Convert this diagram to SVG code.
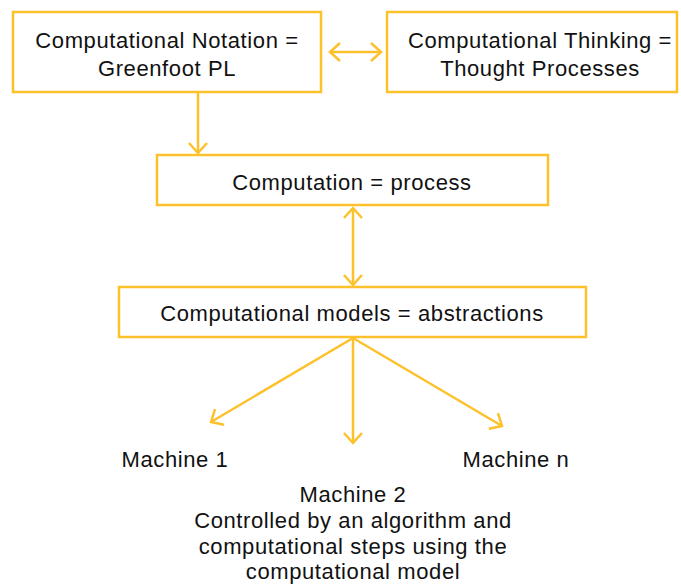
<svg xmlns="http://www.w3.org/2000/svg" width="681" height="587" viewBox="0 0 681 587">
<defs>
<style>
.box{fill:#fff;stroke:#FDC12B;stroke-width:2.5}
.ln{fill:none;stroke:#FDC12B;stroke-width:2.5}
text{font-family:"Liberation Sans",Arial,sans-serif;font-size:22px;letter-spacing:0.6px;fill:#111;text-anchor:middle}
</style>
<marker id="ah" viewBox="0 0 20 20" refX="16" refY="10" markerWidth="20" markerHeight="20" markerUnits="userSpaceOnUse" orient="auto-start-reverse">
<path d="M6,1 L16,10 L6,19" fill="none" stroke="#FDC12B" stroke-width="2.5"/>
</marker>
</defs>
<rect width="681" height="587" fill="#fff"/>
<g id="n1"><rect class="box" x="13" y="12" width="308" height="80"/>
<text x="167" y="48">Computational Notation =</text><text x="167" y="76">Greenfoot PL</text></g>
<g id="n2"><rect class="box" x="387" y="12" width="290" height="80"/>
<text x="540" y="48">Computational Thinking =</text><text x="540" y="76">Thought Processes</text></g>
<g id="n3"><rect class="box" x="157" y="155" width="391" height="50"/>
<text x="352" y="190">Computation = process</text></g>
<g id="n4"><rect class="box" x="119" y="287" width="467" height="50"/>
<text x="352" y="321">Computational models = abstractions</text></g>
<g id="m1"><text x="175" y="467">Machine 1</text></g>
<g id="mn"><text x="516" y="467">Machine n</text></g>
<g id="m2"><text x="353" y="502">Machine 2</text>
<text x="353" y="528">Controlled by an algorithm and</text>
<text x="353" y="554">computational steps using the</text>
<text x="353" y="579">computational model</text></g>
<g id="connectors">
<line class="ln" x1="330" y1="52" x2="381" y2="52" marker-start="url(#ah)" marker-end="url(#ah)"/>
<line class="ln" x1="198" y1="92" x2="198" y2="153" marker-end="url(#ah)"/>
<line class="ln" x1="353" y1="208" x2="353" y2="285" marker-start="url(#ah)" marker-end="url(#ah)"/>
<line class="ln" x1="353" y1="338" x2="211" y2="422" marker-end="url(#ah)"/>
<line class="ln" x1="353" y1="338" x2="353" y2="443" marker-end="url(#ah)"/>
<line class="ln" x1="353" y1="338" x2="502" y2="426" marker-end="url(#ah)"/>
</g>
</svg>
